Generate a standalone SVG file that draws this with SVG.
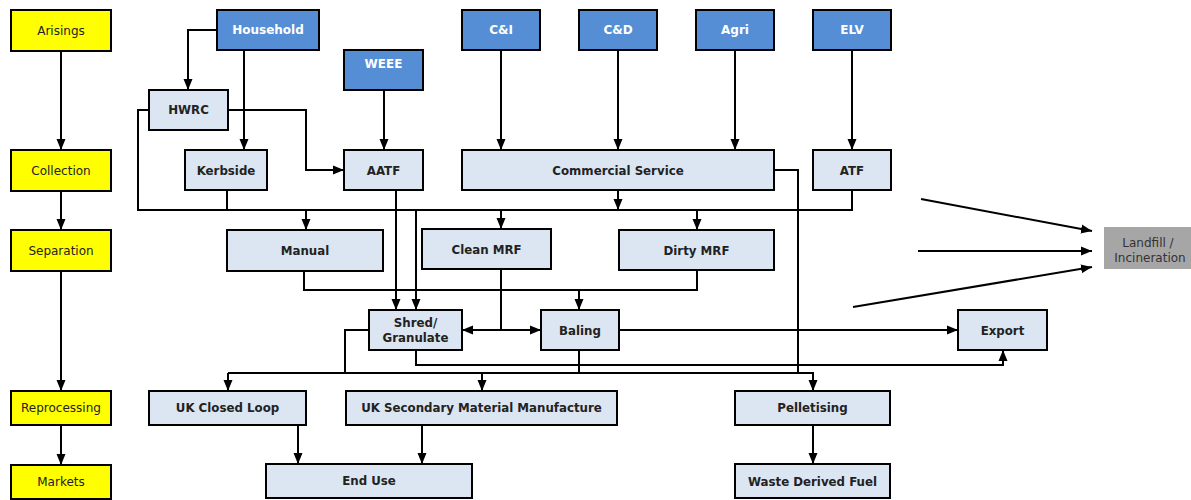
<svg xmlns="http://www.w3.org/2000/svg" width="1191" height="500" viewBox="0 0 1191 500">
<defs>
<marker id="ah" markerUnits="userSpaceOnUse" markerWidth="11" markerHeight="11" viewBox="0 0 11 11" refX="11" refY="5.5" orient="auto-start-reverse">
<path d="M0,1 L11,5.5 L0,10 Z" fill="#000"/>
</marker>
<style>
.y rect{fill:#ffff00;stroke:#000;stroke-width:2}
.b rect{fill:#558ed5;stroke:#000;stroke-width:2}
.l rect{fill:#dce6f2;stroke:#000;stroke-width:2}
.y text{font-family:"DejaVu Sans",sans-serif;font-size:12px;fill:#222;text-anchor:middle}
.b text{font-family:"DejaVu Sans",sans-serif;font-size:12px;font-weight:bold;fill:#fff;text-anchor:middle}
.l text{font-family:"DejaVu Sans",sans-serif;font-size:11.8px;font-weight:bold;fill:#222;text-anchor:middle}
.g text{font-family:"DejaVu Sans",sans-serif;font-size:12px;fill:#333;text-anchor:middle}
#connectors path{fill:none;stroke:#000;stroke-width:2}
#connectors .a{marker-end:url(#ah)}
</style>
</defs>
<rect width="1191" height="500" fill="#fff"/>

<g id="connectors">
<path class="a" d="M61,51 V150"/>
<path class="a" d="M61,191 V230"/>
<path class="a" d="M61,271 V391"/>
<path class="a" d="M61,425 V465"/>
<path class="a" d="M217,30 H188 V90"/>
<path class="a" d="M244,50 V150"/>
<path class="a" d="M228,110 H306 V170 H344"/>
<path class="a" d="M384,90 V150"/>
<path class="a" d="M501,50 V150"/>
<path class="a" d="M618,50 V150"/>
<path class="a" d="M735,50 V150"/>
<path class="a" d="M852,50 V150"/>
<path d="M149,110 H138 V210 H852 V190"/>
<path d="M227,190 V210"/>
<path class="a" d="M618,190 V210"/>
<path class="a" d="M306,210 V230"/>
<path class="a" d="M501,210 V229"/>
<path class="a" d="M697,210 V230"/>
<path class="a" d="M416,210 V310"/>
<path class="a" d="M396,190 V310"/>
<path d="M304,271 V290 H697 V270"/>
<path class="a" d="M579,290 V310"/>
<path d="M501,269 V330"/>
<path class="a" d="M501,330 H462"/>
<path class="a" d="M501,330 H541"/>
<path class="a" d="M619,330 H958"/>
<path class="a" d="M416,350 V365 H1003 V350"/>
<path d="M369,330 H345 V373"/>
<path d="M579,350 V373"/>
<path d="M774,170 H798 V373"/>
<path class="a" d="M228,373 H813 V391"/>
<path class="a" d="M228,373 V391"/>
<path class="a" d="M482,373 V391"/>
<path class="a" d="M298,425 V464"/>
<path class="a" d="M422,425 V464"/>
<path class="a" d="M813,425 V464"/>
<path class="a" d="M921,199 L1092,231"/>
<path class="a" d="M918,251 H1092"/>
<path class="a" d="M853,307 L1092,267"/>
</g>

<g id="arisings" class="y"><rect x="11" y="10" width="100" height="41"/><text x="61" y="35">Arisings</text></g>
<g id="collection" class="y"><rect x="11" y="150" width="100" height="41"/><text x="61" y="175">Collection</text></g>
<g id="separation" class="y"><rect x="11" y="230" width="100" height="41"/><text x="61" y="255">Separation</text></g>
<g id="reprocessing" class="y"><rect x="11" y="391" width="100" height="34"/><text x="61" y="412">Reprocessing</text></g>
<g id="markets" class="y"><rect x="11" y="465" width="100" height="34"/><text x="61" y="486">Markets</text></g>

<g id="household" class="b"><rect x="217" y="10" width="102" height="40"/><text x="268" y="34">Household</text></g>
<g id="weee" class="b"><rect x="344" y="50" width="79" height="40"/><text x="383.5" y="68">WEEE</text></g>
<g id="ci" class="b"><rect x="462" y="10" width="78" height="40"/><text x="501" y="34">C&amp;I</text></g>
<g id="cd" class="b"><rect x="579" y="10" width="78" height="40"/><text x="618" y="34">C&amp;D</text></g>
<g id="agri" class="b"><rect x="696" y="10" width="78" height="40"/><text x="735" y="34">Agri</text></g>
<g id="elv" class="b"><rect x="813" y="10" width="78" height="40"/><text x="852" y="34">ELV</text></g>

<g id="hwrc" class="l"><rect x="149" y="90" width="79" height="40"/><text x="188.5" y="114">HWRC</text></g>
<g id="kerbside" class="l"><rect x="185" y="150" width="82" height="40"/><text x="226" y="175">Kerbside</text></g>
<g id="aatf" class="l"><rect x="344" y="150" width="79" height="40"/><text x="383.5" y="175">AATF</text></g>
<g id="commercial" class="l"><rect x="462" y="150" width="312" height="40"/><text x="618" y="175">Commercial Service</text></g>
<g id="atf" class="l"><rect x="813" y="150" width="78" height="40"/><text x="852" y="175">ATF</text></g>
<g id="manual" class="l"><rect x="227" y="230" width="156" height="41"/><text x="305" y="255">Manual</text></g>
<g id="cleanmrf" class="l"><rect x="422" y="229" width="129" height="40"/><text x="486.5" y="254">Clean MRF</text></g>
<g id="dirtymrf" class="l"><rect x="619" y="230" width="155" height="40"/><text x="696.5" y="255">Dirty MRF</text></g>
<g id="shred" class="l"><rect x="369" y="310" width="93" height="40"/><text x="415.5" y="327">Shred/</text><text x="415.5" y="342">Granulate</text></g>
<g id="baling" class="l"><rect x="541" y="310" width="78" height="40"/><text x="580" y="335">Baling</text></g>
<g id="export" class="l"><rect x="958" y="310" width="89" height="40"/><text x="1002.5" y="335">Export</text></g>
<g id="ukclosed" class="l"><rect x="149" y="391" width="157" height="34"/><text x="227.5" y="412">UK Closed Loop</text></g>
<g id="uksecondary" class="l"><rect x="346" y="391" width="271" height="34"/><text x="481.5" y="412">UK Secondary Material Manufacture</text></g>
<g id="pelletising" class="l"><rect x="735" y="391" width="155" height="34"/><text x="812.5" y="412">Pelletising</text></g>
<g id="enduse" class="l"><rect x="266" y="464" width="206" height="34"/><text x="369" y="485">End Use</text></g>
<g id="wdf" class="l"><rect x="735" y="464" width="155" height="34"/><text x="812.5" y="486">Waste Derived Fuel</text></g>

<g id="landfill" class="g"><rect x="1104" y="227" width="87" height="42" fill="#a6a6a6"/><text x="1148" y="247">Landfill /</text><text x="1150" y="262">Incineration</text></g>
</svg>
